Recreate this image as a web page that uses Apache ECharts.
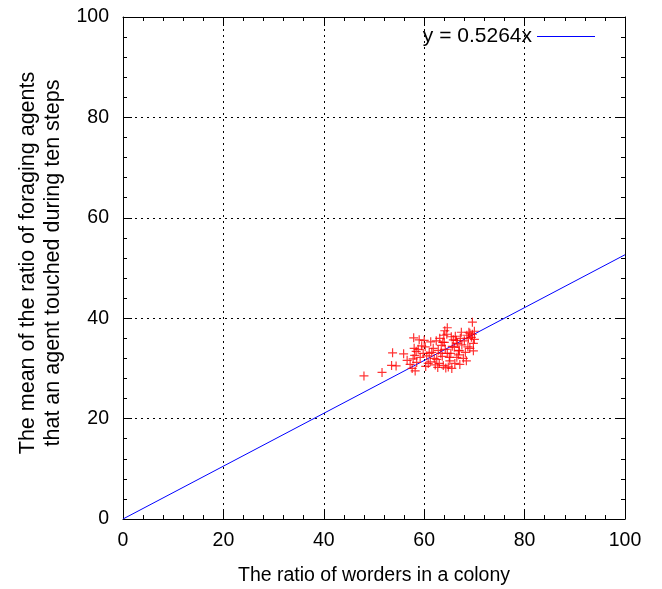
<!DOCTYPE html>
<html>
<head>
<meta charset="utf-8">
<script src="https://cdn.jsdelivr.net/npm/echarts@6/dist/echarts.min.js"></script>
<style>
  html, body { margin: 0; padding: 0; background: #fff; }
  #chart { width: 662px; height: 589px; }
</style>
</head>
<body>
<div id="chart"></div>
<script>
// axis setup
const X_TICKS = [0, 20, 40, 60, 80, 100]
const Y_TICKS = [0, 20, 40, 60, 80, 100]

// fitted line y = 0.5264x
const FIT_NAME = 'y = 0.5264x'
const FIT_SLOPE = 0.5264
const FIT_X = [0, 100]

// colonies: [ratio of workers, mean ratio touched]
const colonies = [
  [48.0, 28.5], [51.6, 29.2], [53.7, 33.1], [53.5, 30.6], [54.4, 30.5],
  [55.9, 32.9], [56.6, 31.6], [57.2, 30.8], [57.6, 30.0], [57.9, 36.1],
  [59.0, 35.7], [58.0, 34.0], [58.4, 33.4], [58.1, 32.6], [57.8, 31.9],
  [58.5, 31.2], [58.2, 29.5], [59.2, 32.2], [58.8, 33.8], [59.5, 34.5],
  [60.2, 34.3], [60.5, 32.5], [60.8, 31.0], [61.2, 31.3], [61.5, 33.2],
  [61.8, 34.0], [61.3, 35.3], [62.0, 32.0], [62.2, 30.7], [62.5, 31.8],
  [62.8, 33.6], [63.1, 36.0], [63.4, 34.6], [63.0, 31.0], [63.6, 32.4],
  [63.8, 30.6], [64.0, 35.2], [64.2, 33.8], [64.5, 36.8], [64.6, 38.1],
  [64.8, 30.3], [65.1, 31.5], [65.5, 30.0], [65.3, 33.0], [65.8, 35.7],
  [66.0, 34.2], [66.2, 36.4], [66.5, 32.2], [66.8, 32.7], [66.6, 35.0],
  [67.0, 33.5], [67.2, 36.0], [67.5, 34.7], [67.8, 32.0], [68.0, 35.5],
  [68.2, 33.2], [68.5, 36.6], [68.7, 34.3], [69.1, 37.0], [69.1, 34.0],
  [69.6, 39.2], [69.8, 35.0], [69.4, 36.2], [70.0, 35.8], [68.9, 37.2],
  [67.4, 37.2], [66.4, 35.6], [65.6, 34.4], [64.6, 33.0], [63.3, 33.0],
  [62.4, 35.5], [61.0, 33.0], [60.3, 30.4], [62.7, 30.2], [64.3, 30.1],
  [65.0, 32.2], [66.1, 31.0], [67.1, 30.8], [68.4, 31.5], [69.8, 33.5],
  [70.0, 37.4], [69.6, 36.8], [68.8, 36.0], [63.7, 35.2], [63.9, 36.6],
  [64.1, 37.5], [59.8, 33.0], [60.0, 35.6], [66.9, 33.6], [65.4, 36.3]
]

const FONT = 'Liberation Sans'
const FS = 19.5

function makeAxis (ticks, extra) {
  return Object.assign({
    type: 'value',
    min: ticks[0],
    max: ticks[ticks.length - 1],
    interval: ticks[1] - ticks[0],
    axisLine: { show: true, onZero: false, lineStyle: { color: '#000', width: 1 } },
    axisTick: { show: true, inside: true, length: 9, lineStyle: { color: '#000' } },
    minorTick: { show: true, splitNumber: 5, length: 4, lineStyle: { color: '#000' } },
    splitLine: { show: false },
    axisLabel: { show: false }
  }, extra)
}

const gridLine = { show: true, lineStyle: { color: '#000', type: [2, 4], width: 1 } }

const chart = echarts.init(document.getElementById('chart'), null, { renderer: 'canvas' })
chart.setOption({
  animation: false,
  backgroundColor: '#fff',
  textStyle: { fontFamily: FONT },
  grid: { left: 123, right: 37, top: 17, bottom: 70, containLabel: false, outerBoundsMode: 'none' },
  legend: {
    data: [{ name: FIT_NAME, icon: 'rect', itemStyle: { color: '#0000ff', borderWidth: 0 } }],
    right: 62,
    top: 21,
    align: 'right',
    itemWidth: 58,
    itemHeight: 1,
    itemGap: 8,
    textStyle: { fontSize: 21, color: '#000', fontFamily: FONT }
  },
  xAxis: [
    makeAxis(X_TICKS, {
      position: 'bottom',
      splitLine: gridLine,
      axisLabel: { show: true, fontSize: FS, color: '#000', margin: 12, fontFamily: FONT },
      name: 'The ratio of worders in a colony',
      nameLocation: 'middle',
      nameGap: 47,
      nameTextStyle: { fontSize: FS, color: '#000', fontFamily: FONT }
    }),
    makeAxis(X_TICKS, { position: 'top' })
  ],
  yAxis: [
    makeAxis(Y_TICKS, {
      position: 'left',
      splitLine: gridLine,
      axisLabel: { show: true, fontSize: FS, color: '#000', margin: 14, fontFamily: FONT },
      name: 'The mean of the ratio of foraging agents\nthat an agent touched during ten steps',
      nameLocation: 'middle',
      nameGap: 57,
      nameTextStyle: { fontSize: 21.5, color: '#000', fontFamily: FONT, lineHeight: 25, padding: [0, 0, 0, 10] }
    }),
    makeAxis(Y_TICKS, { position: 'right' })
  ],
  series: [
    {
      name: FIT_NAME,
      type: 'line',
      data: FIT_X.map(x => [x, x * FIT_SLOPE]),
      showSymbol: false,
      symbol: 'none',
      color: '#0000ff',
      lineStyle: { color: '#0000ff', width: 1 },
      itemStyle: { color: '#0000ff' },
      z: 3
    },
    {
      name: 'colonies',
      type: 'scatter',
      data: colonies,
      symbol: 'path://M0 5H10M5 0V10',
      symbolSize: 9,
      itemStyle: { color: 'transparent', borderColor: '#ff0000', borderWidth: 1.2 },
      z: 4
    }
  ]
})
</script>
</body>
</html>
